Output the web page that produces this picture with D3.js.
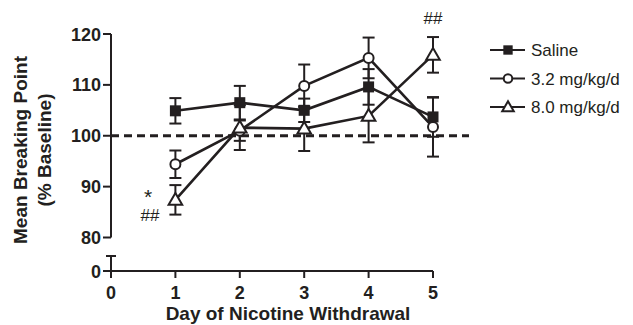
<!DOCTYPE html>
<html>
<head>
<meta charset="utf-8">
<script src="https://cdn.jsdelivr.net/npm/d3@7"></script>
<style>
  body { margin: 0; background: #fff; }
  svg text { font-family: "Liberation Sans", Arial, sans-serif; fill: #231f20; }
</style>
</head>
<body>
<div id="chart"></div>
<script>
// data
const days = [1, 2, 3, 4, 5];
const saline = [104.9, 106.5, 105.0, 109.6, 103.7];
const salineErr = [2.5, 3.3, 2.3, 3.5, 3.9];
const low = [94.4, 101.0, 109.8, 115.3, 101.7];
const lowErr = [2.7, 2.0, 4.2, 4.0, 5.8];
const high = [87.4, 101.6, 101.4, 103.9, 115.9];
const highErr = [2.9, 4.4, 4.4, 5.2, 3.5];
const groupNames = ["Saline", "3.2 mg/kg/d", "8.0 mg/kg/d"];
const yTicks = [80, 90, 100, 110, 120];
const xTicks = [0, 1, 2, 3, 4, 5];

const series = [
    {name: groupNames[0], values: saline, err: salineErr, shape: "square"},
    {name: groupNames[1], values: low, err: lowErr, shape: "circle"},
    {name: groupNames[2], values: high, err: highErr, shape: "triangle"}
];

const W = 633, H = 325;
const ink = "#231f20";

const svg = d3.select("#chart").append("svg")
    .attr("width", W)
    .attr("height", H);

const x = d3.scaleLinear().domain([0, 5]).range([111, 433]);
const y = d3.scaleLinear().domain([80, 120]).range([237.5, 34]);
const yZero = 271; // broken axis, 0 sits below the break

// y axis (upper part)
svg.append("line")
    .attr("x1", x(0)).attr("x2", x(0))
    .attr("y1", y(120)).attr("y2", y(80))
    .attr("stroke", ink).attr("stroke-width", 2);

svg.selectAll(".ytick")
    .data(yTicks)
    .enter()
    .append("line")
    .attr("x1", x(0) - 8).attr("x2", x(0))
    .attr("y1", d => y(d)).attr("y2", d => y(d))
    .attr("stroke", ink).attr("stroke-width", 2);

svg.selectAll(".ylab")
    .data(yTicks)
    .enter()
    .append("text")
    .attr("x", x(0) - 10)
    .attr("y", d => y(d) + 6.5)
    .attr("text-anchor", "end")
    .attr("font-size", 18)
    .attr("font-weight", "bold")
    .text(d => d);

// lower part of broken axis
svg.append("line")
    .attr("x1", x(0)).attr("x2", x(0))
    .attr("y1", yZero - 15).attr("y2", yZero)
    .attr("stroke", ink).attr("stroke-width", 2);
svg.append("line")
    .attr("x1", x(0) - 5).attr("x2", x(0) + 5)
    .attr("y1", yZero - 15).attr("y2", yZero - 15)
    .attr("stroke", ink).attr("stroke-width", 2);
svg.append("line")
    .attr("x1", x(0) - 8).attr("x2", x(0))
    .attr("y1", yZero).attr("y2", yZero)
    .attr("stroke", ink).attr("stroke-width", 2);
svg.append("text")
    .attr("x", x(0) - 10).attr("y", yZero + 6.5)
    .attr("text-anchor", "end")
    .attr("font-size", 18).attr("font-weight", "bold")
    .text("0");

// x axis
svg.append("line")
    .attr("x1", x(0)).attr("x2", x(5))
    .attr("y1", yZero).attr("y2", yZero)
    .attr("stroke", ink).attr("stroke-width", 2);

svg.selectAll(".xtick")
    .data(xTicks)
    .enter()
    .append("line")
    .attr("x1", d => x(d)).attr("x2", d => x(d))
    .attr("y1", yZero).attr("y2", yZero + 7)
    .attr("stroke", ink).attr("stroke-width", 2);

svg.selectAll(".xlab")
    .data(xTicks)
    .enter()
    .append("text")
    .attr("x", d => x(d))
    .attr("y", yZero + 28)
    .attr("text-anchor", "middle")
    .attr("font-size", 18).attr("font-weight", "bold")
    .text(d => d);

// axis titles
svg.append("text")
    .attr("x", 288).attr("y", 320)
    .attr("text-anchor", "middle")
    .attr("font-size", 19).attr("font-weight", "bold")
    .text("Day of Nicotine Withdrawal");

const yTitle = svg.append("g").attr("transform", "translate(0,150) rotate(-90)");
yTitle.append("text")
    .attr("x", 0).attr("y", 27)
    .attr("text-anchor", "middle")
    .attr("font-size", 19).attr("font-weight", "bold")
    .text("Mean Breaking Point");
yTitle.append("text")
    .attr("x", 0).attr("y", 51)
    .attr("text-anchor", "middle")
    .attr("font-size", 19).attr("font-weight", "bold")
    .text("(% Baseline)");

// dashed baseline at 100
svg.append("line")
    .attr("x1", x(0)).attr("x2", 469)
    .attr("y1", y(100)).attr("y2", y(100))
    .attr("stroke", ink).attr("stroke-width", 3)
    .attr("stroke-dasharray", "8,5");

// error bars
series.forEach(s => {
    const g = svg.append("g");
    days.forEach((d, i) => {
        const top = y(s.values[i] + s.err[i]);
        const bot = y(s.values[i] - s.err[i]);
        g.append("line")
            .attr("x1", x(d)).attr("x2", x(d))
            .attr("y1", top).attr("y2", bot)
            .attr("stroke", ink).attr("stroke-width", 2);
        [top, bot].forEach(v => {
            g.append("line")
                .attr("x1", x(d) - 6).attr("x2", x(d) + 6)
                .attr("y1", v).attr("y2", v)
                .attr("stroke", ink).attr("stroke-width", 2);
        });
    });
});

// lines
const line = d3.line()
    .x((d, i) => x(days[i]))
    .y(d => y(d));

series.forEach(s => {
    svg.append("path")
        .attr("d", line(s.values))
        .attr("fill", "none")
        .attr("stroke", ink)
        .attr("stroke-width", 2.6);
});

// markers
function marker(g, shape, cx, cy, scale) {
    if (shape === "square") {
        const s = 11 * scale;
        g.append("rect")
            .attr("x", cx - s / 2).attr("y", cy - s / 2)
            .attr("width", s).attr("height", s)
            .attr("fill", ink);
    } else if (shape === "circle") {
        g.append("circle")
            .attr("cx", cx).attr("cy", cy).attr("r", 5 * scale)
            .attr("fill", "#fff").attr("stroke", ink).attr("stroke-width", 2);
    } else {
        g.append("path")
            .attr("d", d3.symbol().type(d3.symbolTriangle).size(80 * scale * scale)())
            .attr("transform", `translate(${cx},${cy + 1})`)
            .attr("fill", "#fff").attr("stroke", ink).attr("stroke-width", 2);
    }
}

series.forEach(s => {
    const g = svg.append("g");
    days.forEach((d, i) => marker(g, s.shape, x(d), y(s.values[i]), 1));
});

// significance marks
svg.append("text")
    .attr("x", 148).attr("y", 204)
    .attr("text-anchor", "middle")
    .attr("font-size", 21)
    .text("*");
svg.append("text")
    .attr("x", 150).attr("y", 221)
    .attr("text-anchor", "middle")
    .attr("font-size", 17)
    .text("##");
svg.append("text")
    .attr("x", x(5)).attr("y", 24)
    .attr("text-anchor", "middle")
    .attr("font-size", 17)
    .text("##");

// legend
const legend = svg.append("g");
series.forEach((s, i) => {
    const ly = 50 + i * 28.5;
    legend.append("line")
        .attr("x1", 490).attr("x2", 525)
        .attr("y1", ly).attr("y2", ly)
        .attr("stroke", ink).attr("stroke-width", 2);
    marker(legend, s.shape, 508, ly, 0.85);
    legend.append("text")
        .attr("x", 531).attr("y", ly + 6)
        .attr("font-size", 17)
        .text(s.name);
});
</script>
</body>
</html>
